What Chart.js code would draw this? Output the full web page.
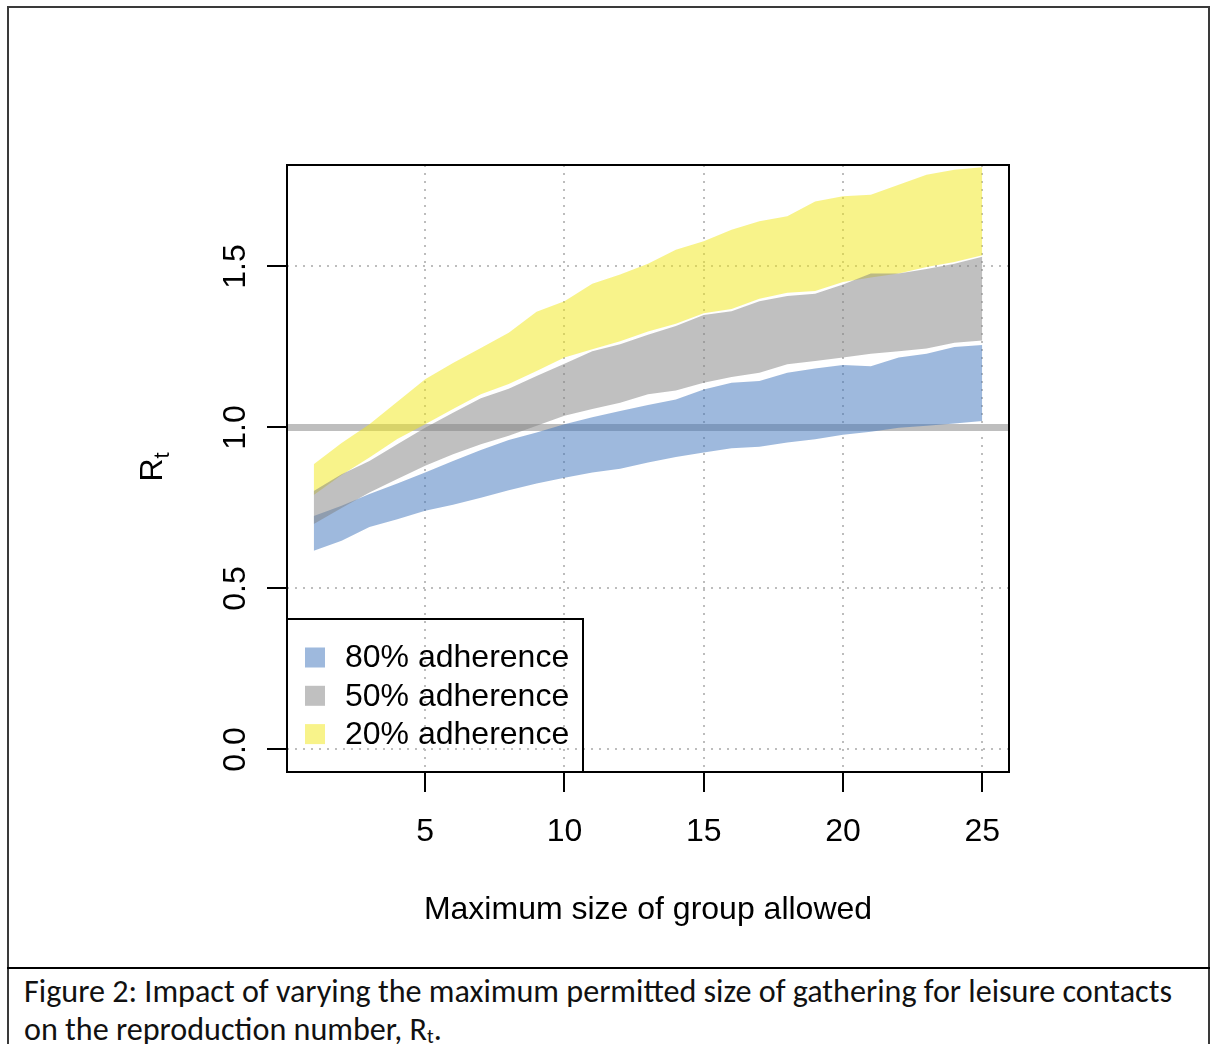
<!DOCTYPE html>
<html>
<head>
<meta charset="utf-8">
<script src="https://cdn.jsdelivr.net/npm/chart.js"></script>
<style>
html, body { margin: 0; padding: 0; background: #fff; }
body { width: 1210px; height: 1044px; position: relative; overflow: hidden; }
#frame { position: absolute; left: 7px; top: 6px; width: 1199px; height: 1100px; border: 2px solid #3a3a3a; border-bottom: none; }
#divider { position: absolute; left: 7px; top: 967px; width: 1203px; height: 2px; background: #000; }
#wrap { position: absolute; left: 9px; top: 9px; width: 1199px; height: 958px; }
#caption { position: absolute; left: 24px; top: 972px; font-family: Carlito, Calibri, Lato, sans-serif; line-height: 38px; color: #111; white-space: nowrap; }
#caption sub { font-size: 0.62em; vertical-align: -0.15em; line-height: 0; }
</style>
</head>
<body>
<div id="frame"></div>
<div id="divider"></div>
<div id="wrap"><canvas id="rtChart"></canvas></div>
<div id="caption"><span id="cap1">Figure 2: Impact of varying the maximum permitted size of gathering for leisure contacts</span><br>on the reproduction number, R<sub>t</sub>.</div>

<script>
const FONT = "'Liberation Sans', Arial, sans-serif";

// maximum group size allowed
const groupSize = [1, 2, 3, 4, 5, 6, 7, 8, 9, 10, 11, 12, 13, 14, 15, 16, 17, 18, 19, 20, 21, 22, 23, 24, 25];

// 80% adherence band
const low80 = [0.617, 0.648, 0.691, 0.715, 0.741, 0.760, 0.782, 0.805, 0.826, 0.844, 0.860, 0.872, 0.891,
  0.908, 0.922, 0.935, 0.940, 0.953, 0.963, 0.977, 0.987, 0.999, 1.005, 1.012, 1.020];
const high80 = [0.725, 0.757, 0.793, 0.826, 0.860, 0.896, 0.930, 0.961, 0.984, 1.010, 1.032, 1.051, 1.070,
  1.087, 1.118, 1.139, 1.144, 1.170, 1.183, 1.194, 1.190, 1.217, 1.229, 1.250, 1.256];

// 50% adherence band
const low50 = [0.700, 0.750, 0.798, 0.840, 0.881, 0.917, 0.948, 0.974, 1.005, 1.036, 1.057, 1.077, 1.103,
  1.115, 1.139, 1.157, 1.170, 1.196, 1.206, 1.217, 1.229, 1.237, 1.245, 1.263, 1.270];
const high50 = [0.803, 0.855, 0.896, 0.948, 0.999, 1.046, 1.091, 1.120, 1.160, 1.198, 1.237, 1.258, 1.288,
  1.315, 1.349, 1.361, 1.392, 1.408, 1.415, 1.444, 1.478, 1.478, 1.492, 1.508, 1.530];

// 20% adherence band
const low20 = [0.790, 0.852, 0.907, 0.964, 1.010, 1.057, 1.103, 1.135, 1.175, 1.217, 1.243, 1.268, 1.298,
  1.322, 1.355, 1.368, 1.400, 1.418, 1.424, 1.452, 1.466, 1.478, 1.498, 1.514, 1.535];
const high20 = [0.886, 0.952, 1.010, 1.080, 1.150, 1.200, 1.247, 1.294, 1.359, 1.392, 1.446, 1.475, 1.508,
  1.552, 1.578, 1.614, 1.640, 1.656, 1.702, 1.718, 1.723, 1.754, 1.785, 1.800, 1.808];

const bandLabels = ["80% adherence", "50% adherence", "20% adherence"];
const bandColors = ["rgba(61,115,187,0.5)", "rgba(129,129,129,0.5)", "rgba(241,231,21,0.5)"];
const bandLows = [low80, low50, low20];
const bandHighs = [high80, high50, high20];
const bandOrder = [2, 1, 3];   // grey on top, yellow at the bottom

const xTicks = [5, 10, 15, 20, 25];
const yTicks = [0, 0.5, 1.0, 1.5];
const X_MIN = 0.04, X_MAX = 25.96;
const Y_MIN = -0.07, Y_MAX = 1.815;
const R_REF = 1;

const xTitle = "Maximum size of group allowed";

const pts = arr => groupSize.map((g, i) => ({ x: g, y: arr[i] }));

const datasets = [{
  label: "Rt = 1",
  data: [{ x: X_MIN, y: R_REF }, { x: X_MAX, y: R_REF }],
  borderColor: "#bebebe",
  borderWidth: 7,
  pointRadius: 0,
  fill: false,
  order: 10
}];

bandLabels.forEach((lab, i) => {
  datasets.push({
    label: lab,
    data: pts(bandHighs[i]),
    borderColor: "rgba(0,0,0,0)",
    borderWidth: 0,
    backgroundColor: bandColors[i],
    pointRadius: 0,
    fill: "+1",
    order: bandOrder[i]
  });
  datasets.push({
    label: lab + " low",
    data: pts(bandLows[i]),
    borderColor: "rgba(0,0,0,0)",
    borderWidth: 0,
    pointRadius: 0,
    fill: false,
    order: bandOrder[i]
  });
});

const gridStyle = {
  color: "#bdbdbd",
  lineWidth: 2,
  tickColor: "#000",
  tickWidth: 2,
  tickLength: 20,
  tickBorderDash: []
};

// dotted grid lines, no axis line (the box is drawn by the plugin)
const borderStyle = { display: false, dash: [2, 6] };

const boxAndLegend = {
  id: "boxAndLegend",
  afterDraw(chart) {
    const { ctx, chartArea: a, scales: { y } } = chart;
    ctx.save();
    ctx.fillStyle = "#000";
    ctx.font = "32px " + FONT;
    ctx.textAlign = "center";
    ctx.textBaseline = "alphabetic";
    y.ticks.forEach(t => {
      ctx.save();
      ctx.translate(236, y.getPixelForValue(t.value));
      ctx.rotate(-Math.PI / 2);
      ctx.fillText(t.value.toFixed(1), 0, 0);
      ctx.restore();
    });

    // y title: R with subscript t
    ctx.save();
    ctx.translate(153, 458);
    ctx.rotate(-Math.PI / 2);
    ctx.textAlign = "left";
    ctx.font = "32px " + FONT;
    const wR = ctx.measureText("R").width;
    ctx.font = "22px " + FONT;
    const wt = ctx.measureText("t").width;
    const x0 = -(wR + wt) / 2;
    ctx.font = "32px " + FONT;
    ctx.fillText("R", x0, 0);
    ctx.font = "22px " + FONT;
    ctx.fillText("t", x0 + wR, 7);
    ctx.restore();

    // plot box
    ctx.strokeStyle = "#000";
    ctx.lineWidth = 2;
    ctx.strokeRect(a.left, a.top, a.right - a.left, a.bottom - a.top);

    // legend
    const lw = 296, lh = 153;
    const top = a.bottom - lh;
    ctx.strokeRect(a.left, top, lw, lh);
    ctx.font = "32px " + FONT;
    ctx.textAlign = "left";
    ctx.textBaseline = "middle";
    bandLabels.forEach((lab, i) => {
      const cy = top + 38.5 + i * 38.3;
      ctx.fillStyle = bandColors[i];
      ctx.fillRect(a.left + 18, cy - 10, 20, 20);
      ctx.fillStyle = "#000";
      ctx.fillText(lab, a.left + 58, cy + 1);
    });
    ctx.restore();
  }
};

Chart.defaults.font.family = FONT;
Chart.defaults.color = "#000";

new Chart(document.getElementById("rtChart"), {
  type: "line",
  data: { datasets: datasets },
  options: {
    responsive: true,
    maintainAspectRatio: false,
    animation: false,
    layout: { padding: { top: 156, right: 199, left: 0, bottom: 0 } },
    plugins: {
      legend: { display: false },
      tooltip: { enabled: false }
    },
    scales: {
      x: {
        type: "linear",
        min: X_MIN,
        max: X_MAX,
        afterBuildTicks: s => { s.ticks = xTicks.map(v => ({ value: v })); },
        afterFit: s => { s.height = 195; },
        grid: gridStyle,
        border: borderStyle,
        ticks: { font: { size: 32 }, padding: 21, maxRotation: 0, autoSkip: false },
        title: { display: true, text: xTitle, font: { size: 32 }, padding: { top: 0, bottom: 38 } }
      },
      y: {
        type: "linear",
        min: Y_MIN,
        max: Y_MAX,
        afterBuildTicks: s => { s.ticks = yTicks.map(v => ({ value: v })); },
        afterFit: s => { s.width = 278; },
        grid: gridStyle,
        border: borderStyle,
        ticks: { display: false }
      }
    }
  },
  plugins: [boxAndLegend]
});

// fit the caption's first line to the original width
const cap1 = document.getElementById("cap1");
const mctx = document.createElement("canvas").getContext("2d");
mctx.font = "100px " + getComputedStyle(cap1).fontFamily;
const capW = mctx.measureText(cap1.textContent).width;
document.getElementById("caption").style.fontSize = (100 * 1148 / capW).toFixed(2) + "px";
</script>
</body>
</html>
